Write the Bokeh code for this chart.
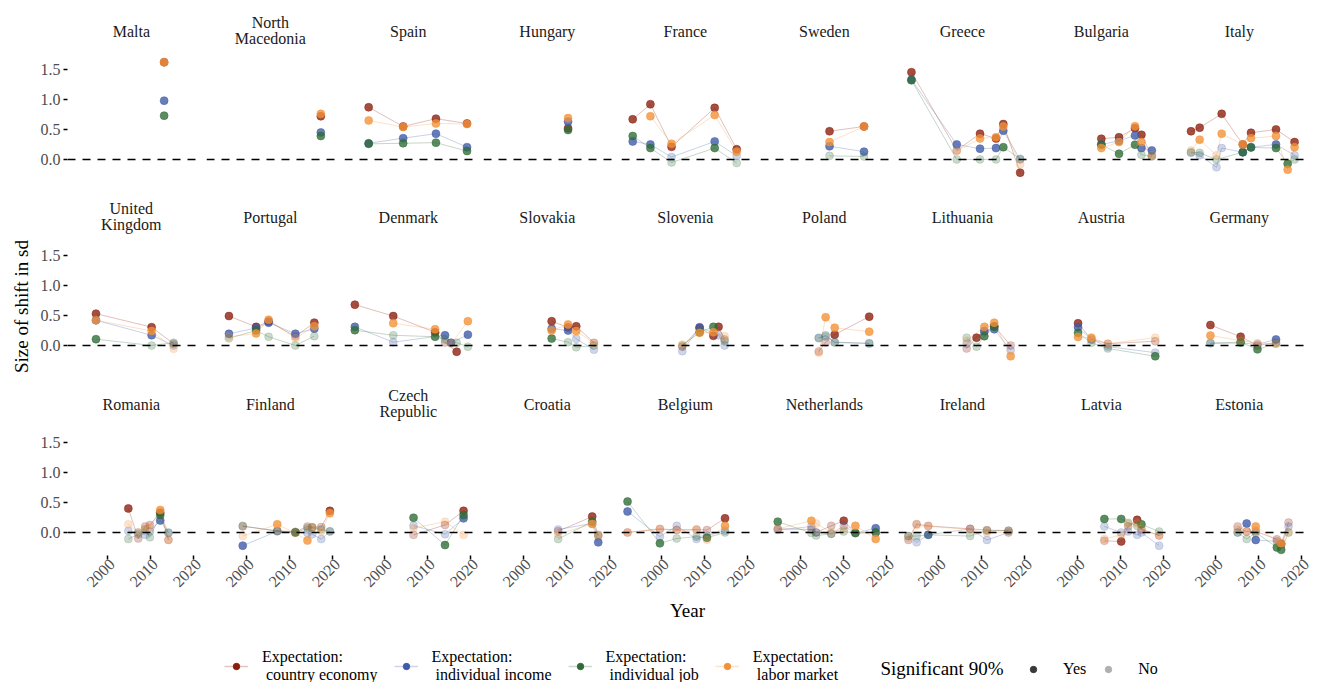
import math
from bokeh.plotting import figure
from bokeh.layouts import column, row
from bokeh.models import (Range1d, FixedTicker, Span, Legend, LegendItem, Label,
                          PrintfTickFormatter, CustomJSTickFormatter)
from bokeh.embed import file_html
from bokeh.resources import INLINE

FONT = "Liberation Serif"

# ---------------- data ----------------
COUNTRY_ROWS = [
    ["Malta", "North Macedonia", "Spain", "Hungary", "France", "Sweden", "Greece", "Bulgaria", "Italy"],
    ["United Kingdom", "Portugal", "Denmark", "Slovakia", "Slovenia", "Poland", "Lithuania", "Austria", "Germany"],
    ["Romania", "Finland", "Czech Republic", "Croatia", "Belgium", "Netherlands", "Ireland", "Latvia", "Estonia"],
]
STRIP_LABELS = {"North Macedonia": ["North", "Macedonia"], "United Kingdom": ["United", "Kingdom"],
                "Czech Republic": ["Czech", "Republic"]}

SERIES_NAMES = ["Expectation:\n country economy", "Expectation:\n individual income",
                "Expectation:\n individual job", "Expectation:\n labor market"]
SIG_TITLE = "Significant 90%"
SIG_NAMES = ["Yes", "No"]
X_TITLE = "Year"
Y_TITLE = "Size of shift in sd"
X_TICKS = [2000, 2010, 2020]
Y_TICKS = [0.0, 0.5, 1.0, 1.5]

YEARS = {
    "Malta": [2013.1],
    "North Macedonia": [2017.2],
    "Spain": [1996.3, 2004.3, 2011.9, 2019.1],
    "Hungary": [2010.3],
    "France": [1993.3, 1997.4, 2002.3, 2012.3, 2017.4],
    "Sweden": [2006.7, 2014.7],
    "Greece": [1993.7, 2004.2, 2009.6, 2013.3, 2015.0, 2018.9],
    "Bulgaria": [2005.5, 2009.6, 2013.3, 2014.8, 2017.2],
    "Italy": [1994.3, 1996.3, 2000.2, 2001.4, 2006.3, 2008.2, 2014.0, 2016.7, 2018.3],
    "United Kingdom": [1997.3, 2010.2, 2015.3],
    "Portugal": [1995.9, 2002.2, 2005.1, 2011.3, 2015.7],
    "Denmark": [1993.1, 2002.0, 2011.7, 2014.0, 2015.4, 2016.7, 2019.3],
    "Slovakia": [2006.5, 2010.3, 2012.2, 2016.3],
    "Slovenia": [2004.8, 2008.8, 2012.0, 2013.2, 2014.6],
    "Poland": [2004.2, 2005.8, 2007.9, 2015.9],
    "Lithuania": [2006.5, 2008.8, 2010.6, 2012.9, 2016.7],
    "Austria": [2000.1, 2003.2, 2007.0, 2018.0],
    "Germany": [1998.8, 2005.8, 2009.7, 2014.0],
    "Romania": [2004.8, 2007.1, 2008.7, 2009.8, 2012.2, 2014.1],
    "Finland": [1999.1, 2007.1, 2011.3, 2014.1, 2015.2, 2017.3, 2019.3],
    "Czech Republic": [2006.7, 2014.0, 2018.3],
    "Croatia": [2008.0, 2015.9, 2017.3],
    "Belgium": [1992.1, 1999.6, 2003.5, 2008.1, 2010.5, 2014.7],
    "Netherlands": [1994.7, 2002.5, 2003.6, 2007.1, 2010.0, 2012.7, 2017.4],
    "Ireland": [1993.0, 1994.9, 1997.6, 2007.3, 2011.2, 2016.2],
    "Latvia": [2006.2, 2010.1, 2011.7, 2013.8, 2014.8, 2018.9],
    "Estonia": [2005.1, 2007.2, 2009.3, 2014.2, 2015.2, 2016.9],
}

ECON = {
    "Malta": [1.62], "North Macedonia": [0.72],
    "Spain": [0.87, 0.55, 0.68, 0.60], "Hungary": [0.52],
    "France": [0.67, 0.92, 0.21, 0.86, 0.17], "Sweden": [0.47, 0.55],
    "Greece": [1.455, 0.15, 0.43, 0.35, 0.59, -0.22],
    "Bulgaria": [0.345, 0.37, 0.52, 0.41, 0.06],
    "Italy": [0.47, 0.53, None, 0.76, 0.25, 0.445, 0.50, None, 0.29],
    "United Kingdom": [0.53, 0.305, 0.03],
    "Portugal": [0.49, 0.31, 0.40, 0.15, 0.38],
    "Denmark": [0.68, 0.49, 0.22, 0.05, None, -0.105, None],
    "Slovakia": [0.405, 0.30, 0.32, 0.045],
    "Slovenia": [-0.02, 0.29, 0.16, 0.31, 0.10],
    "Poland": [-0.10, 0.05, 0.18, 0.48],
    "Lithuania": [-0.05, 0.13, 0.22, 0.32, 0.0],
    "Austria": [0.37, 0.10, 0.03, 0.07],
    "Germany": [0.34, 0.145, 0.0, 0.05],
    "Romania": [0.40, -0.10, 0.10, 0.125, 0.33, -0.125],
    "Finland": [0.10, 0.03, 0.01, 0.10, 0.09, 0.09, 0.36],
    "Czech Republic": [-0.04, 0.125, 0.36],
    "Croatia": [0.02, 0.265, -0.04],
    "Belgium": [0.0, 0.06, 0.04, 0.05, 0.04, 0.235],
    "Netherlands": [0.06, 0.05, 0.0, 0.11, 0.195, -0.01, 0.0],
    "Ireland": [-0.125, 0.14, 0.11, 0.06, 0.04, 0.03],
    "Latvia": [-0.14, -0.15, 0.10, 0.21, 0.05, -0.05],
    "Estonia": [0.10, 0.015, 0.02, -0.115, -0.19, 0.165],
}
INCOME = {
    "Malta": [0.98], "North Macedonia": [0.45],
    "Spain": [0.27, 0.355, 0.43, 0.205], "Hungary": [0.63],
    "France": [0.30, 0.25, 0.04, 0.30, 0.06], "Sweden": [0.22, 0.13],
    "Greece": [1.33, 0.25, 0.18, 0.19, 0.48, 0.0],
    "Bulgaria": [0.25, 0.31, 0.40, 0.19, 0.15],
    "Italy": [0.11, 0.07, -0.13, 0.19, 0.12, 0.205, 0.25, None, 0.07],
    "United Kingdom": [0.42, 0.17, 0.0],
    "Portugal": [0.195, 0.29, 0.38, 0.195, 0.28],
    "Denmark": [0.31, 0.055, None, 0.17, 0.045, None, 0.18],
    "Slovakia": [0.28, 0.25, 0.11, -0.07],
    "Slovenia": [-0.095, 0.305, None, 0.17, 0.0],
    "Poland": [0.13, 0.15, 0.055, 0.04],
    "Lithuania": [0.03, None, 0.24, 0.27, -0.08],
    "Austria": [0.305, 0.10, -0.02, -0.12],
    "Germany": [0.035, 0.04, 0.02, 0.10],
    "Romania": [0.025, 0.0, -0.04, 0.015, 0.20, -0.01],
    "Finland": [-0.22, 0.02, 0.0, -0.01, -0.03, -0.11, 0.02],
    "Czech Republic": [0.115, -0.03, 0.235],
    "Croatia": [0.05, 0.15, -0.165],
    "Belgium": [0.35, -0.07, 0.11, -0.11, -0.05, 0.03],
    "Netherlands": [0.04, 0.10, 0.0, -0.02, 0.11, -0.01, 0.07],
    "Ireland": [-0.06, -0.165, -0.04, 0.06, -0.125, 0.0],
    "Latvia": [0.10, 0.0, 0.015, -0.04, 0.0, -0.22],
    "Estonia": [0.0, 0.15, -0.125, -0.15, -0.20, 0.10],
}
JOB = {
    "Malta": [0.73], "North Macedonia": [0.39],
    "Spain": [0.26, 0.27, 0.28, 0.14], "Hungary": [0.49],
    "France": [0.39, 0.19, -0.05, 0.19, -0.06], "Sweden": [0.06, 0.05],
    "Greece": [1.32, 0.0, 0.0, 0.0, 0.205, 0.01],
    "Bulgaria": [0.245, 0.095, 0.245, 0.08, 0.05],
    "Italy": [0.12, 0.11, 0.0, None, 0.12, 0.20, 0.19, -0.07, 0.0],
    "United Kingdom": [0.105, 0.0, 0.045],
    "Portugal": [0.12, 0.25, 0.145, 0.0, 0.155],
    "Denmark": [0.255, 0.17, 0.145, 0.10, None, 0.045, -0.02],
    "Slovakia": [0.115, 0.055, -0.03, 0.0],
    "Slovenia": [0.0, 0.22, 0.31, None, 0.07],
    "Poland": [0.12, 0.17, 0.05, 0.03],
    "Lithuania": [0.13, -0.02, 0.155, 0.31, None],
    "Austria": [0.21, 0.045, -0.05, -0.18],
    "Germany": [0.04, 0.055, -0.065, 0.03],
    "Romania": [-0.11, -0.03, 0.05, -0.08, 0.29, 0.0],
    "Finland": [0.11, 0.02, 0.0, 0.07, 0.08, 0.05, 0.015],
    "Czech Republic": [0.245, -0.21, 0.29],
    "Croatia": [-0.11, 0.18, -0.06],
    "Belgium": [0.515, -0.18, -0.10, -0.07, -0.09, 0.0],
    "Netherlands": [0.18, -0.01, -0.05, -0.025, 0.015, -0.01, 0.0],
    "Ireland": [-0.06, -0.06, -0.04, -0.06, 0.03, 0.03],
    "Latvia": [0.225, 0.225, 0.16, 0.11, 0.135, 0.015],
    "Estonia": [0.0, -0.11, 0.0, -0.25, -0.29, 0.0],
}
LABOR = {
    "Malta": [1.62], "North Macedonia": [0.76],
    "Spain": [0.65, 0.54, 0.60, 0.59], "Hungary": [0.69],
    "France": [None, 0.72, 0.26, 0.74, 0.13], "Sweden": [0.29, 0.55],
    "Greece": [None, 0.14, 0.35, 0.37, 0.55, -0.08],
    "Bulgaria": [0.19, 0.29, 0.555, 0.29, 0.07],
    "Italy": [0.15, 0.33, 0.07, 0.43, 0.25, 0.355, 0.39, -0.17, 0.205],
    "United Kingdom": [0.42, 0.24, -0.055],
    "Portugal": [0.145, 0.20, 0.43, 0.12, 0.32],
    "Denmark": [None, 0.37, 0.27, None, 0.03, None, 0.405],
    "Slovakia": [0.25, 0.35, 0.24, 0.04],
    "Slovenia": [0.015, 0.21, 0.22, None, 0.155],
    "Poland": [-0.12, 0.47, 0.295, 0.23],
    "Lithuania": [0.08, None, 0.31, 0.38, -0.18],
    "Austria": [0.14, 0.13, 0.03, 0.13],
    "Germany": [0.165, 0.08, 0.04, 0.03],
    "Romania": [0.135, 0.0, 0.06, 0.08, 0.375, -0.12],
    "Finland": [-0.06, 0.135, -0.01, -0.135, 0.08, 0.02, 0.32],
    "Czech Republic": [0.07, 0.18, -0.04],
    "Croatia": [-0.025, 0.14, -0.05],
    "Belgium": [0.0, 0.05, 0.04, 0.04, -0.12, 0.11],
    "Netherlands": [0.06, 0.195, 0.15, 0.0, 0.06, 0.11, -0.11],
    "Ireland": [-0.09, 0.12, 0.10, 0.05, 0.0, 0.0],
    "Latvia": [-0.11, -0.04, 0.14, 0.15, 0.06, -0.05],
    "Estonia": [0.05, 0.015, 0.10, -0.14, -0.18, 0.0],
}

# significance at 90% ("1" = yes, "0" = no, "-" = missing)
ECON_SIG = {
    "Malta": "1", "North Macedonia": "1", "Spain": "1111", "Hungary": "1", "France": "11111",
    "Sweden": "11", "Greece": "101111", "Bulgaria": "11110", "Italy": "11-1111-1",
    "United Kingdom": "110", "Portugal": "11101", "Denmark": "1110-1-", "Slovakia": "1110",
    "Slovenia": "01110", "Poland": "0011", "Lithuania": "01010", "Austria": "1000", "Germany": "1100",
    "Romania": "100010", "Finland": "0000001", "Czech Republic": "001", "Croatia": "010",
    "Belgium": "000001", "Netherlands": "0000100", "Ireland": "000000", "Latvia": "010100",
    "Estonia": "000010",
}
INCOME_SIG = {
    "Malta": "1", "North Macedonia": "1", "Spain": "1111", "Hungary": "1", "France": "11010",
    "Sweden": "11", "Greece": "111110", "Bulgaria": "11111", "Italy": "0000111-0",
    "United Kingdom": "110", "Portugal": "11111", "Denmark": "10-11-1", "Slovakia": "1100",
    "Slovenia": "01-00", "Poland": "0000", "Lithuania": "0-110", "Austria": "1000", "Germany": "0001",
    "Romania": "000010", "Finland": "1000000", "Czech Republic": "001", "Croatia": "001",
    "Belgium": "100000", "Netherlands": "0000001", "Ireland": "001000", "Latvia": "000000",
    "Estonia": "011000",
}
JOB_SIG = {
    "Malta": "1", "North Macedonia": "1", "Spain": "1111", "Hungary": "1", "France": "11010",
    "Sweden": "00", "Greece": "100010", "Bulgaria": "11100", "Italy": "000-11110",
    "United Kingdom": "100", "Portugal": "01000", "Denmark": "1010-00", "Slovakia": "1000",
    "Slovenia": "011-0", "Poland": "0000", "Lithuania": "0011-", "Austria": "1001", "Germany": "0110",
    "Romania": "000010", "Finland": "0010000", "Czech Republic": "111", "Croatia": "010",
    "Belgium": "110010", "Netherlands": "1000011", "Ireland": "000000", "Latvia": "110010",
    "Estonia": "000110",
}
LABOR_SIG = {
    "Malta": "1", "North Macedonia": "1", "Spain": "1111", "Hungary": "1", "France": "-1111",
    "Sweden": "11", "Greece": "-01110", "Bulgaria": "11110", "Italy": "010111111",
    "United Kingdom": "110", "Portugal": "01101", "Denmark": "-11-0-1", "Slovakia": "1110",
    "Slovenia": "011-0", "Poland": "0111", "Lithuania": "0-111", "Austria": "1100", "Germany": "1000",
    "Romania": "000010", "Finland": "0101001", "Czech Republic": "000", "Croatia": "010",
    "Belgium": "000001", "Netherlands": "0100011", "Ireland": "000000", "Latvia": "000000",
    "Estonia": "001010",
}

SERIES_VALUES = [ECON, INCOME, JOB, LABOR]
SERIES_SIG = [ECON_SIG, INCOME_SIG, JOB_SIG, LABOR_SIG]

# ---------------- styles / layout ----------------
COLORS = ["#8B1D0B", "#3E5AA8", "#2E6B36", "#F39136"]
SIG_COLORS = ["#3a3a3a", "#b0b0b0"]
ALPHA_SIG = 0.78
ALPHA_NS = 0.25

FRAME_W = 132
X0, X1 = 1990.7, 2021.3          # shared x scale
PX_PER_YEAR = FRAME_W / (X1 - X0)
Y0, Y1 = -0.384, 1.716           # shared y scale (126 px of panel)
PANEL_H = 126
PX_PER_UNIT = PANEL_H / (Y1 - Y0)
STRIP_H = [56, 60, 61]           # strip space above each panel row (inside the frame)
LABEL_SHIFT = 1.0                # years: rotated x labels sit right of their tick
YLAB_W = 32                      # width of the left strip holding the y title
LEFT_TOP_ROWS = [35, 7, 6, 7, 6, 7, 6, 7, 6]
RIGHT_TOP_ROWS = [0, 0, 0, 0, 0, 0, 0, 0, 10]
LEFT_BOTTOM_ROW = [35, 0, 0, 0, 0, 0, 0, 0, 0]
RIGHT_BOTTOM_ROW = [7, 6, 7, 6, 7, 6, 7, 6, 10]
BOTTOM_AXIS_H = 66


def add_strip(p, name):
    lines = STRIP_LABELS.get(name, [name])
    cx = (X0 + X1) / 2 - 0.5
    offs = [25] if len(lines) == 1 else [34, 18]
    for txt, off in zip(lines, offs):
        p.add_layout(Label(x=cx, y=Y1 + off / PX_PER_UNIT, text=txt, text_align="center",
                           text_baseline="middle", text_font=FONT, text_font_size="16px",
                           text_color="#1A1A1A"))


def make_panel(name, r, c):
    bottom = r == 2
    left = LEFT_BOTTOM_ROW[c] if bottom else LEFT_TOP_ROWS[c]
    right = RIGHT_BOTTOM_ROW[c] if bottom else RIGHT_TOP_ROWS[c]
    fh = PANEL_H + STRIP_H[r]
    p = figure(frame_width=FRAME_W, frame_height=fh,
               x_range=Range1d(X0, X1), y_range=Range1d(Y0, Y1 + STRIP_H[r] / PX_PER_UNIT),
               x_axis_location="below" if bottom else None,
               y_axis_location="left" if c == 0 else None,
               toolbar_location=None, tools="", output_backend="svg",
               min_border_left=left, min_border_right=right,
               min_border_top=0, min_border_bottom=BOTTOM_AXIS_H if bottom else 0,
               outline_line_color=None, background_fill_color="white",
               border_fill_color="white")
    p.grid.visible = False
    add_strip(p, name)

    if c == 0:
        ax = p.yaxis[0]
        ax.ticker = FixedTicker(ticks=Y_TICKS)
        ax.formatter = PrintfTickFormatter(format="%.1f")
        ax.axis_line_color = None
        ax.major_tick_line_color = "black"
        ax.major_tick_line_width = 1.5
        ax.major_tick_in = 0
        ax.major_tick_out = 4
        ax.minor_tick_line_color = None
        ax.major_label_standoff = 3
        ax.major_label_text_font = FONT
        ax.major_label_text_font_size = "16px"
        ax.major_label_text_color = "#4D4D4D"
    if bottom:
        ax = p.xaxis[0]
        # labels anchored slightly right of each tick; the tick marks are drawn as minor ticks
        ax.ticker = FixedTicker(ticks=[t + LABEL_SHIFT for t in X_TICKS], minor_ticks=X_TICKS)
        ax.formatter = CustomJSTickFormatter(code="return String(Math.round(tick - %s))" % LABEL_SHIFT)
        ax.axis_line_color = None
        ax.major_tick_line_color = None
        ax.minor_tick_line_color = "black"
        ax.minor_tick_line_width = 1.5
        ax.minor_tick_in = 0
        ax.minor_tick_out = 4
        ax.major_tick_in = 0
        ax.major_tick_out = 4
        ax.major_label_orientation = math.pi / 4
        ax.major_label_standoff = 2
        ax.major_label_text_font = FONT
        ax.major_label_text_font_size = "16px"
        ax.major_label_text_color = "#4D4D4D"
        if c == 4:
            ax.axis_label = X_TITLE
            ax.axis_label_text_font = FONT
            ax.axis_label_text_font_size = "19px"
            ax.axis_label_text_font_style = "normal"
            ax.axis_label_text_color = "black"
            ax.axis_label_standoff = 5

    years = YEARS[name]
    for values, color in zip(SERIES_VALUES, COLORS):
        vals = values[name]
        xs = [x for x, v in zip(years, vals) if v is not None]
        ys = [v for v in vals if v is not None]
        if len(xs) > 1:
            p.line(xs, ys, line_color=color, line_alpha=0.35, line_width=0.8)
    for values, sigs, color in zip(SERIES_VALUES, SERIES_SIG, COLORS):
        vals = values[name]
        sig = sigs[name]
        for flag, alpha in (("0", ALPHA_NS), ("1", ALPHA_SIG)):
            xs = [x for x, v, s in zip(years, vals, sig) if v is not None and s == flag]
            ys = [v for v, s in zip(vals, sig) if v is not None and s == flag]
            if xs:
                p.scatter(xs, ys, size=8, fill_color=color, fill_alpha=alpha,
                          line_color=color, line_alpha=alpha * 0.6)
    p.add_layout(Span(location=0, dimension="width", line_color="black",
                      line_width=1.6, line_dash="8 7"))
    return p


rows = []
for r, names in enumerate(COUNTRY_ROWS):
    rows.append(row([make_panel(n, r, c) for c, n in enumerate(names)]))

grid_h = sum(STRIP_H) + 3 * PANEL_H + BOTTOM_AXIS_H

# ---------------- y title strip ----------------
yl = figure(width=YLAB_W, height=grid_h, x_range=Range1d(0, YLAB_W), y_range=Range1d(0, grid_h),
            x_axis_location=None, y_axis_location=None, toolbar_location=None, tools="",
            output_backend="svg", min_border=0, outline_line_color=None)
yl.grid.visible = False
yl.add_layout(Label(x=21, y=grid_h - 306, text=Y_TITLE, angle=math.pi / 2, text_align="center",
                    text_baseline="middle", text_font=FONT, text_font_size="19px",
                    text_color="black"))

# ---------------- legend strip ----------------
LEG_W, LEG_H = 1317, 682 - grid_h
lg = figure(width=LEG_W, height=LEG_H, x_range=Range1d(0, LEG_W), y_range=Range1d(0, LEG_H),
            x_axis_location=None, y_axis_location=None, toolbar_location=None, tools="",
            output_backend="svg", min_border=0, outline_line_color=None)
lg.grid.visible = False
NAN = [float("nan")]

items = []
for name, color in zip(SERIES_NAMES, COLORS):
    lr = lg.line(NAN, NAN, line_color=color, line_alpha=0.25, line_width=1.5)
    sr = lg.scatter(NAN, NAN, size=7, fill_color=color, line_color=color)
    items.append(LegendItem(label=name, renderers=[lr, sr]))
leg1 = Legend(items=items, orientation="horizontal", location=(224, 0),
              glyph_width=24, glyph_height=16, label_standoff=14, spacing=16,
              padding=0, margin=0, border_line_color=None, background_fill_alpha=0,
              label_text_font=FONT, label_text_font_size="16px", label_text_color="black",
              label_text_line_height=1.0)
lg.add_layout(leg1)

items2 = []
for name, color in zip(SIG_NAMES, SIG_COLORS):
    sr = lg.scatter(NAN, NAN, size=7, fill_color=color, line_color=color)
    items2.append(LegendItem(label=name, renderers=[sr]))
leg2 = Legend(items=items2, orientation="horizontal", location=(1021, 6),
              glyph_width=24, glyph_height=16, label_standoff=18, spacing=10,
              padding=0, margin=0, border_line_color=None, background_fill_alpha=0,
              label_text_font=FONT, label_text_font_size="16px", label_text_color="black")
lg.add_layout(leg2)

lg.add_layout(Label(x=880, y=16, text=SIG_TITLE, text_font=FONT,
                    text_font_size="19px", text_baseline="middle", text_color="black"))

layout = column([row([yl, column(rows)]), lg])

with open("out.html", "w") as f:
    f.write(file_html(layout, INLINE))
